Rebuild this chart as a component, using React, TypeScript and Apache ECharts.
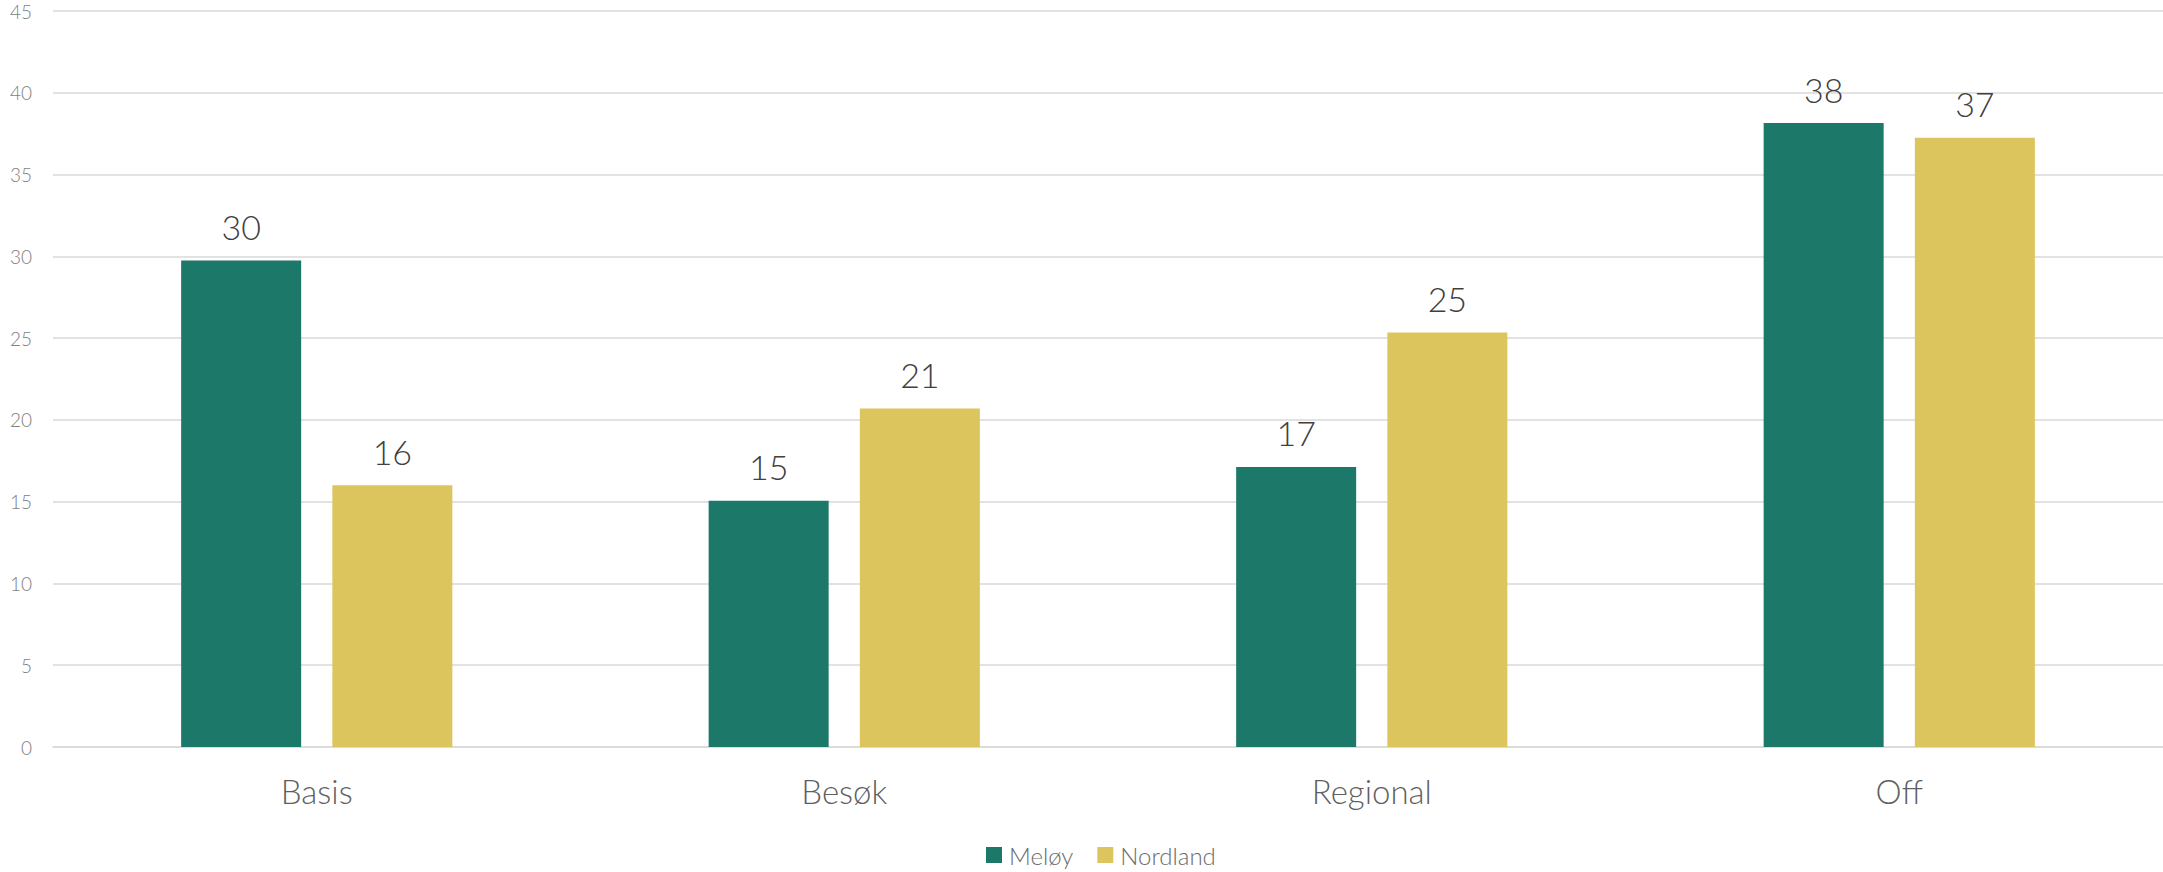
import React, { useEffect, useRef } from "react";
import * as echarts from "echarts";

const categories = ["Basis", "Besøk", "Regional", "Off"];
const meloyValues = [29.75, 15.05, 17.12, 38.15];
const nordlandValues = [16.0, 20.7, 25.35, 37.25];
const seriesNames = ["Meløy", "Nordland"];

const FONT = "Lato, 'Open Sans', sans-serif";

export default function App() {
  const ref = useRef<HTMLDivElement>(null);
  useEffect(() => {
    if (!ref.current) return;
    const chart = echarts.init(ref.current, undefined, { renderer: "svg" });
    const labelStyle = {
      show: true,
      position: "top" as const,
      distance: 17,
      fontSize: 34,
      fontFamily: FONT,
      fontWeight: 300,
      color: "#404040",
      formatter: (p: any) => Math.round(p.value).toString(),
    };
    chart.setOption({
      animation: false,
      textStyle: { fontFamily: FONT },
      grid: { left: 53, right: 0, top: 11, bottom: 125, containLabel: false },
      legend: {
        data: seriesNames,
        top: 838,
        left: 981,
        itemWidth: 16,
        itemHeight: 16,
        itemGap: 24,
        icon: "rect",
        textStyle: { fontSize: 24, fontFamily: FONT, fontWeight: 300, color: "#6b6b6b", padding: [0, 0, 0, 2] },
      },
      xAxis: {
        type: "category",
        data: categories,
        axisTick: { show: false },
        axisLine: { show: true, lineStyle: { color: "#d9d9d9", width: 1.5 } },
        axisLabel: { fontSize: 33, fontFamily: FONT, fontWeight: 300, color: "#5f5f5f", margin: 27 },
      },
      yAxis: {
        type: "value",
        min: 0,
        max: 45,
        interval: 5,
        axisLine: { show: false },
        axisTick: { show: false },
        splitLine: { lineStyle: { color: "#d9d9d9", width: 1.5 } },
        axisLabel: { fontSize: 19, fontFamily: FONT, fontWeight: 300, color: "#7f7f7f", margin: 21 },
      },
      series: [
        {
          name: seriesNames[0],
          type: "bar",
          data: meloyValues,
          barWidth: 120,
          barGap: "26%",
          itemStyle: { color: "#1c7868" },
          label: labelStyle,
        },
        {
          name: seriesNames[1],
          type: "bar",
          data: nordlandValues,
          barWidth: 120,
          barGap: "26%",
          itemStyle: { color: "#ddc55e" },
          label: labelStyle,
        },
      ],
    });
    return () => chart.dispose();
  }, []);
  return (
    <div
      ref={ref}
      style={{ position: "fixed", left: 0, top: 0, width: 2163, height: 872, background: "#fff" }}
    />
  );
}
